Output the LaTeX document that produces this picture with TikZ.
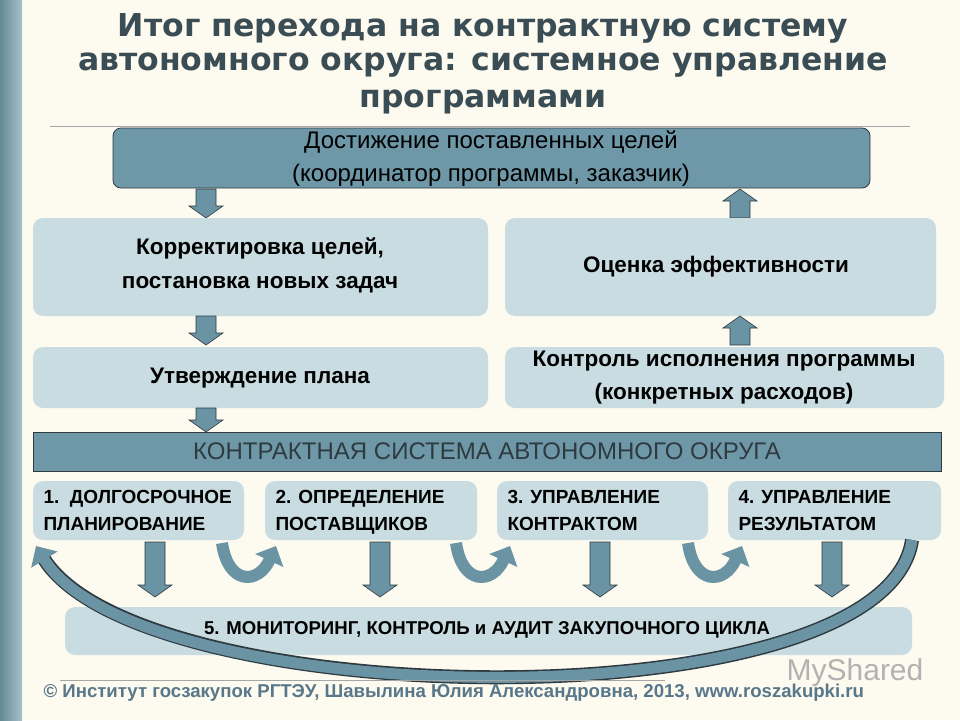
\documentclass[tikz,border=0pt]{standalone}
\usepackage{fontspec}
\setmainfont{Liberation Sans}
\newfontfamily\titlefont{DejaVu Sans}
\usetikzlibrary{arrows.meta}
\definecolor{bg}{HTML}{FDFAF0}
\definecolor{titlec}{HTML}{3A4C54}
\definecolor{lightbox}{HTML}{C9DCE2}
\definecolor{darkbox}{HTML}{6E98A8}
\definecolor{arrowc}{HTML}{6A93A3}
\definecolor{edgec}{HTML}{2E3A40}
\definecolor{footc}{HTML}{58778A}
\tikzset{
  light/.style={fill=lightbox, rounded corners=10pt},
  darkb/.style={fill=darkbox, draw=edgec, line width=0.8pt},
  bt/.style={font=\bfseries\fontsize{22.5}{24}\selectfont, text=black, align=center},
  st/.style={font=\bfseries\fontsize{19}{21}\selectfont, text=black, anchor=base west},
  blk/.style={fill=arrowc, draw=edgec, line width=0.6pt},
  curv/.style={draw=arrowc, line width=12pt, -{Triangle[width=30pt,length=16pt]}},
}
\newcommand\dnarrow[3]{\filldraw[blk] (#1-10,#2) -- (#1+10,#2) -- (#1+10,#3-12) -- (#1+17,#3-12) -- (#1,#3) -- (#1-17,#3-12) -- (#1-10,#3-12) -- cycle;}
\newcommand\uparrowb[3]{\filldraw[blk] (#1-10,#2) -- (#1+10,#2) -- (#1+10,#3+12) -- (#1+17,#3+12) -- (#1,#3) -- (#1-17,#3+12) -- (#1-10,#3+12) -- cycle;}
\begin{document}
\begin{tikzpicture}[x=1pt,y=-1pt]
\useasboundingbox (0,0) rectangle (960,720);
\fill[bg] (0,0) rectangle (960,720);
\shade[left color=darkbox!90!black, right color=darkbox!60!white] (0,0) rectangle (22,720);
% title
\node[font=\titlefont\bfseries\fontsize{31.5}{33}\selectfont, text=titlec] (t1) at (483,28) {Итог перехода на контрактную систему};
\node[font=\titlefont\bfseries\fontsize{31.5}{33}\selectfont, text=titlec] (t2) at (483,65) {автономного округа: системное управление};
\node[font=\titlefont\bfseries\fontsize{31.5}{33}\selectfont, text=titlec] (t3) at (483,102) {программами};
\draw[gray!70] (50,126) -- (910,126);
% top box
\filldraw[darkb, rounded corners=8pt] (113,128) rectangle (870,188);
\node[font=\fontsize{24}{26}\selectfont] (top1) at (491,142) {Достижение поставленных целей};
\node[font=\fontsize{24}{26}\selectfont] (top2) at (491,175) {(координатор программы, заказчик)};
\dnarrow{206}{189}{218}
\uparrowb{740}{218}{189}
% second row
\fill[light] (33,218) rectangle (488,316);
\node[bt] (korr1) at (260,248) {Корректировка целей,};
\node[bt] (korr2) at (260,285) {постановка новых задач};
\fill[light] (505,218) rectangle (936,316);
\node[bt] (oc) at (716,267) {Оценка эффективности};
\dnarrow{206}{316}{345}
\uparrowb{740}{345}{316}
\fill[light] (33,347) rectangle (488,408);
\node[bt] (utv) at (260,378) {Утверждение плана};
\fill[light] (505,347) rectangle (944,408);
\node[bt] (kontr1) at (724,361) {Контроль исполнения программы};
\node[bt] (kontr2) at (724,394) {(конкретных расходов)};
\dnarrow{206}{408}{432}
% bar
\filldraw[darkb] (33,432) rectangle (941,471);
\node[font=\fontsize{24}{26}\selectfont, text=edgec] (ks) at (487,451) {КОНТРАКТНАЯ СИСТЕМА АВТОНОМНОГО ОКРУГА};
% small boxes
\fill[light] (33,481) rectangle (244,540);
\fill[light] (265,481) rectangle (477,540);
\fill[light] (497,481) rectangle (708,540);
\fill[light] (728,481) rectangle (941,540);
\node[st] (b1a) at (40,503) {1.\ \ ДОЛГОСРОЧНОЕ};
\node[st] (b1b) at (40,530) {ПЛАНИРОВАНИЕ};
\node[st] (b2a) at (272,503) {2. ОПРЕДЕЛЕНИЕ};
\node[st] (b2b) at (272,530) {ПОСТАВЩИКОВ};
\node[st] (b3a) at (504,503) {3. УПРАВЛЕНИЕ};
\node[st] (b3b) at (504,530) {КОНТРАКТОМ};
\node[st] (b4a) at (735,503) {4. УПРАВЛЕНИЕ};
\node[st] (b4b) at (735,530) {РЕЗУЛЬТАТОМ};
% box 5
\fill[light] (65,607) rectangle (912,655);
% down arrows
\dnarrow{155}{542}{597}
\dnarrow{380}{542}{597}
\dnarrow{600}{542}{597}
\dnarrow{832}{542}{597}
% curved small
\draw[curv] (222,543) .. controls (228,585) and (258,585) .. (276,546);
\draw[curv] (456,543) .. controls (462,585) and (492,585) .. (510,546);
\draw[curv] (688,543) .. controls (694,585) and (724,585) .. (742,546);
% big arc
\draw[draw=edgec, line width=14pt, shorten >=14pt] (912,540) .. controls (885,725) and (140,715) .. (36,546);
\draw[curv, line width=11pt] (912,540) .. controls (885,725) and (140,715) .. (36,546);
\node[font=\bfseries\fontsize{18.6}{20}\selectfont] (m5) at (487,630) {5. МОНИТОРИНГ, КОНТРОЛЬ и АУДИТ ЗАКУПОЧНОГО ЦИКЛА};
% footer
\draw[gray!70] (60,680) -- (665,680);
\node[font=\fontsize{30}{32}\selectfont, text=gray!60] (ms) at (855,673) {MyShared};
\node[font=\bfseries\fontsize{18.6}{20}\selectfont, text=footc, anchor=west] (ft) at (40,693) {© Институт госзакупок РГТЭУ, Шавылина Юлия Александровна, 2013, www.roszakupki.ru};
\end{tikzpicture}
\end{document}
